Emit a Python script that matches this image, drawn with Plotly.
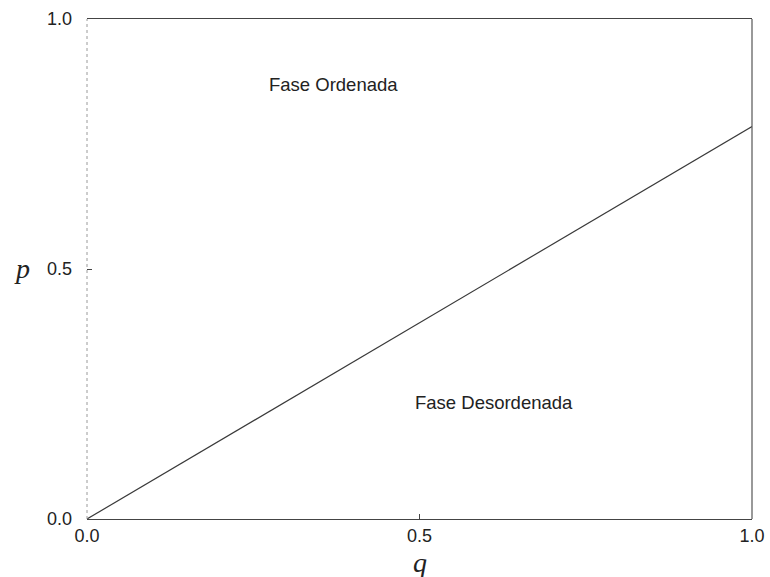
import plotly.graph_objects as go

# Phase boundary p(q)
q_vals = [0.0, 1.0]
p_vals = [0.0, 0.785]

tick_vals = [0.0, 0.5, 1.0]
tick_text = ["0.0", "0.5", "1.0"]

region_labels = ["Fase Ordenada", "Fase Desordenada"]
region_q = [0.27, 0.49]
region_p = [0.87, 0.234]

fig = go.Figure()
fig.add_trace(go.Scatter(
    x=q_vals, y=p_vals, mode="lines",
    line=dict(color="#3a3a3a", width=1.2),
    showlegend=False, hoverinfo="skip",
))

for txt, qx, py in zip(region_labels, region_q, region_p):
    fig.add_annotation(
        x=qx, y=py, text=txt, showarrow=False, xanchor="left", yanchor="middle",
        font=dict(family="Liberation Sans, Arial", size=18.5, color="#222"),
    )

# axis titles
fig.add_annotation(
    x=-0.098, y=0.502, xref="x domain", yref="y domain", text="<i>p</i>", showarrow=False,
    font=dict(family="Liberation Serif, Times New Roman", size=28, color="#222"),
    xanchor="center", yanchor="middle",
)
fig.add_annotation(
    x=0.5, y=-0.086, xref="x domain", yref="y domain", text="<i>q</i>", showarrow=False,
    font=dict(family="Liberation Serif, Times New Roman", size=28, color="#222"),
    xanchor="center", yanchor="middle",
)

# frame: faint dotted left edge, solid right edge
fig.add_shape(type="line", xref="x domain", yref="y domain", x0=0, x1=0, y0=0, y1=1,
              line=dict(color="#9a9a9a", width=1, dash="dot"))
fig.add_shape(type="line", xref="x domain", yref="y domain", x0=1, x1=1, y0=0, y1=1,
              line=dict(color="#555", width=1.2))

axis_font = dict(family="Liberation Sans, Arial", size=18, color="#222")
fig.update_xaxes(
    range=[0, 1], tickvals=tick_vals, ticktext=tick_text,
    showline=True, mirror=True, linecolor="#444", linewidth=1.4,
    ticks="inside", ticklen=5, tickcolor="#444", automargin=False,
    showgrid=False, zeroline=False, tickfont=axis_font, ticklabelstandoff=0,
)
fig.update_yaxes(
    range=[0, 1], tickvals=tick_vals, ticktext=tick_text,
    showline=False, ticks="inside", ticklen=5, tickcolor="#444", automargin=False,
    showgrid=False, zeroline=False, tickfont=axis_font, ticklabelstandoff=14,
)
fig.update_layout(
    width=770, height=577,
    margin=dict(l=87, r=18, t=19, b=58),
    plot_bgcolor="white", paper_bgcolor="white",
)
fig.write_html("out.html")
